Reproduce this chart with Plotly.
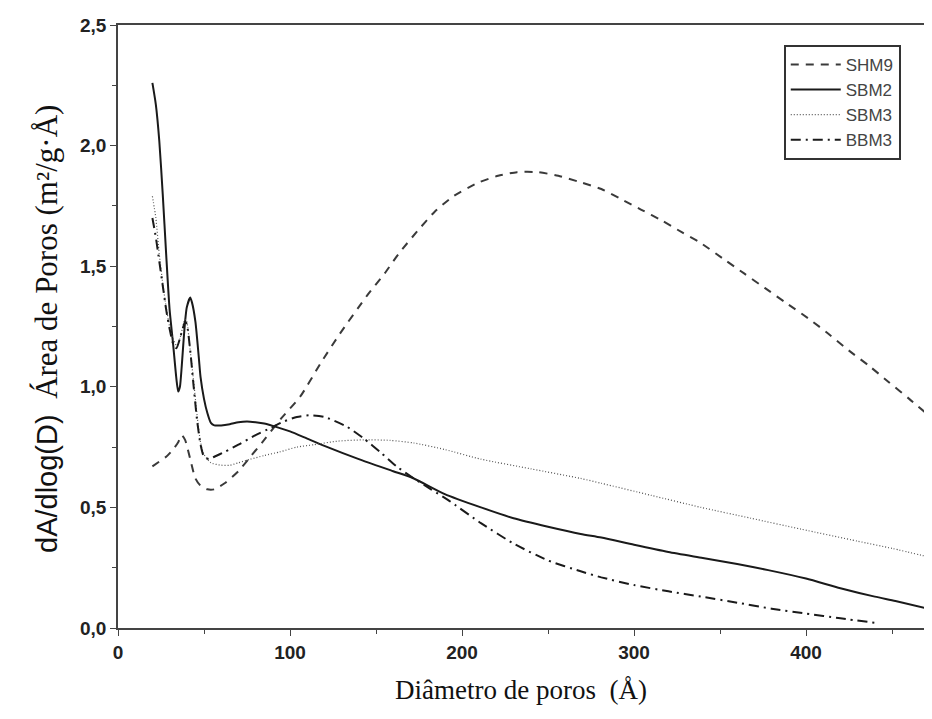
import plotly.graph_objects as go

# SHM9 (dashed)
shm9_x = [20, 24, 28, 32, 35, 37, 39, 42, 45, 48, 52, 56, 62, 70, 77, 85, 95, 106, 118, 129, 145, 155,
          163, 174, 184, 195, 209, 221, 232, 244, 256, 268, 281, 292, 304, 316, 328, 338, 353, 364, 376,
          388, 402, 413, 425, 437, 448, 460, 474]
shm9_y = [0.67, 0.69, 0.71, 0.74, 0.77, 0.80, 0.78, 0.70, 0.62, 0.59, 0.575, 0.575, 0.60, 0.65, 0.71,
          0.78, 0.87, 0.96, 1.10, 1.22, 1.38, 1.47, 1.55, 1.645, 1.725, 1.79, 1.845, 1.875, 1.89, 1.89,
          1.875, 1.85, 1.82, 1.78, 1.735, 1.69, 1.64, 1.60, 1.525, 1.47, 1.41, 1.35, 1.28, 1.22, 1.15,
          1.085, 1.02, 0.95, 0.865]

# SBM2 (solid)
sbm2_x = [20, 22, 24, 26, 28, 30, 32, 34, 35, 36, 37, 38, 39, 40, 42, 43, 45, 47, 48, 50, 52, 54, 56,
          60, 65, 70, 75, 80, 85, 90, 100, 110, 120, 140, 160, 172, 190, 211, 230, 250, 269, 281, 300,
          320, 340, 360, 378, 400, 420, 440, 452, 474]
sbm2_y = [2.26, 2.17, 2.02, 1.80, 1.55, 1.32, 1.18, 1.03, 0.98, 1.00, 1.08, 1.18, 1.27, 1.33, 1.37,
          1.35, 1.27, 1.12, 1.04, 0.95, 0.89, 0.85, 0.84, 0.84, 0.845, 0.853, 0.856, 0.853, 0.848, 0.838,
          0.815, 0.785, 0.755, 0.70, 0.65, 0.62, 0.555, 0.50, 0.455, 0.42, 0.39, 0.375, 0.345, 0.315,
          0.29, 0.265, 0.24, 0.205, 0.165, 0.13, 0.112, 0.075]

# SBM3 (dotted)
sbm3_x = [20, 22, 24, 26, 28, 30, 32, 34, 36, 38, 39, 40, 42, 44, 46, 48, 50, 54, 60, 65, 70, 77, 85,
          94, 104, 114, 128, 143, 158, 172, 190, 211, 240, 269, 281, 310, 339, 368, 397, 430, 450, 474]
sbm3_y = [1.79, 1.70, 1.55, 1.43, 1.33, 1.25, 1.20, 1.17, 1.20, 1.26, 1.28, 1.27, 1.15, 1.02, 0.88,
          0.77, 0.72, 0.685, 0.675, 0.675, 0.685, 0.70, 0.715, 0.73, 0.75, 0.76, 0.775, 0.78, 0.778,
          0.767, 0.74, 0.70, 0.66, 0.62, 0.60, 0.55, 0.50, 0.455, 0.41, 0.36, 0.33, 0.29]

# BBM3 (dash-dot)
bbm3_x = [20, 22, 24, 26, 28, 30, 32, 34, 36, 38, 39, 40, 42, 44, 46, 48, 50, 53, 56, 62, 70, 80, 89,
          96, 104, 112, 120, 133, 143, 153, 162, 172, 182, 192, 211, 230, 250, 269, 281, 300, 320, 339,
          360, 380, 400, 420, 442]
bbm3_y = [1.70, 1.62, 1.52, 1.42, 1.32, 1.24, 1.18, 1.16, 1.20, 1.25, 1.27, 1.26, 1.15, 1.00, 0.86,
          0.76, 0.71, 0.70, 0.71, 0.73, 0.76, 0.80, 0.83, 0.855, 0.875, 0.882, 0.875, 0.835, 0.785,
          0.726, 0.67, 0.62, 0.575, 0.53, 0.435, 0.35, 0.28, 0.235, 0.21, 0.178, 0.152, 0.13, 0.105,
          0.08, 0.06, 0.04, 0.02]

x_ticks = [0, 100, 200, 300, 400]
y_ticks = [0.0, 0.5, 1.0, 1.5, 2.0, 2.5]

SANS = "Liberation Sans, Arial, sans-serif"
SERIF = "Liberation Serif, Times New Roman, serif"

fig = go.Figure()
fig.add_trace(go.Scatter(x=shm9_x, y=shm9_y, name="SHM9", mode="lines", legendgroup="a",
                         line=dict(color="#3a3a3a", width=2, dash="8px,7px", shape="spline", smoothing=0.6)))
fig.add_trace(go.Scatter(x=sbm2_x, y=sbm2_y, name="SBM2", mode="lines", legendgroup="b",
                         line=dict(color="#1a1a1a", width=2, shape="spline", smoothing=0.6)))
fig.add_trace(go.Scatter(x=sbm3_x, y=sbm3_y, name="SBM3", mode="lines", legendgroup="c",
                         line=dict(color="#555555", width=1.2, dash="1px,2px", shape="spline", smoothing=0.6)))
fig.add_trace(go.Scatter(x=bbm3_x, y=bbm3_y, name="BBM3", mode="lines", legendgroup="d",
                         line=dict(color="#1a1a1a", width=2, dash="10px,5px,2px,5px", shape="spline", smoothing=0.6)))

fig.update_layout(
    width=916, height=697,
    margin=dict(l=110, r=0, t=17, b=77),
    paper_bgcolor="white", plot_bgcolor="white",
    separators=",.",
    showlegend=True,
    legend=dict(x=0.826, y=0.967, xanchor="left", yanchor="top",
                bordercolor="#333333", borderwidth=2, bgcolor="white",
                font=dict(family=SANS, size=17, color="#444444"),
                itemwidth=50, tracegroupgap=3, traceorder="normal"),
    annotations=[dict(
        text="<span style='font-family:Liberation Sans, Arial, sans-serif;font-size:29px'>dA/dlog(D)</span>  Área de Poros (m²/g·Å)",
        xref="paper", yref="paper", x=-0.088, y=0.496, xanchor="center", yanchor="middle",
        textangle=-90, showarrow=False,
        font=dict(family=SERIF, size=31, color="#111111"))],
)
fig.update_xaxes(
    range=[0, 468.6], tickvals=x_ticks, showgrid=False, zeroline=False,
    showline=True, linecolor="#444444", linewidth=1.8, mirror=True,
    ticks="outside", ticklen=6, tickwidth=1.2, tickcolor="#444444",
    minor=dict(dtick=50, tick0=0, ticks="outside", ticklen=4, tickcolor="#444444"),
    tickfont=dict(family=SANS, size=19, color="#222222", weight="bold"),
    title=dict(text="Diâmetro de poros  (Å)", standoff=21,
               font=dict(family=SERIF, size=27, color="#111111")),
)
fig.update_yaxes(
    range=[0, 2.5], tickvals=y_ticks, tickformat=".1f", showgrid=False, zeroline=False,
    showline=True, linecolor="#444444", linewidth=1.8, mirror=False,
    ticks="outside", ticklen=6, tickwidth=1.2, tickcolor="#444444",
    minor=dict(dtick=0.25, tick0=0, ticks="outside", ticklen=4, tickcolor="#444444"),
    tickfont=dict(family=SANS, size=19, color="#222222", weight="bold"),
)

fig.write_html("out.html")
